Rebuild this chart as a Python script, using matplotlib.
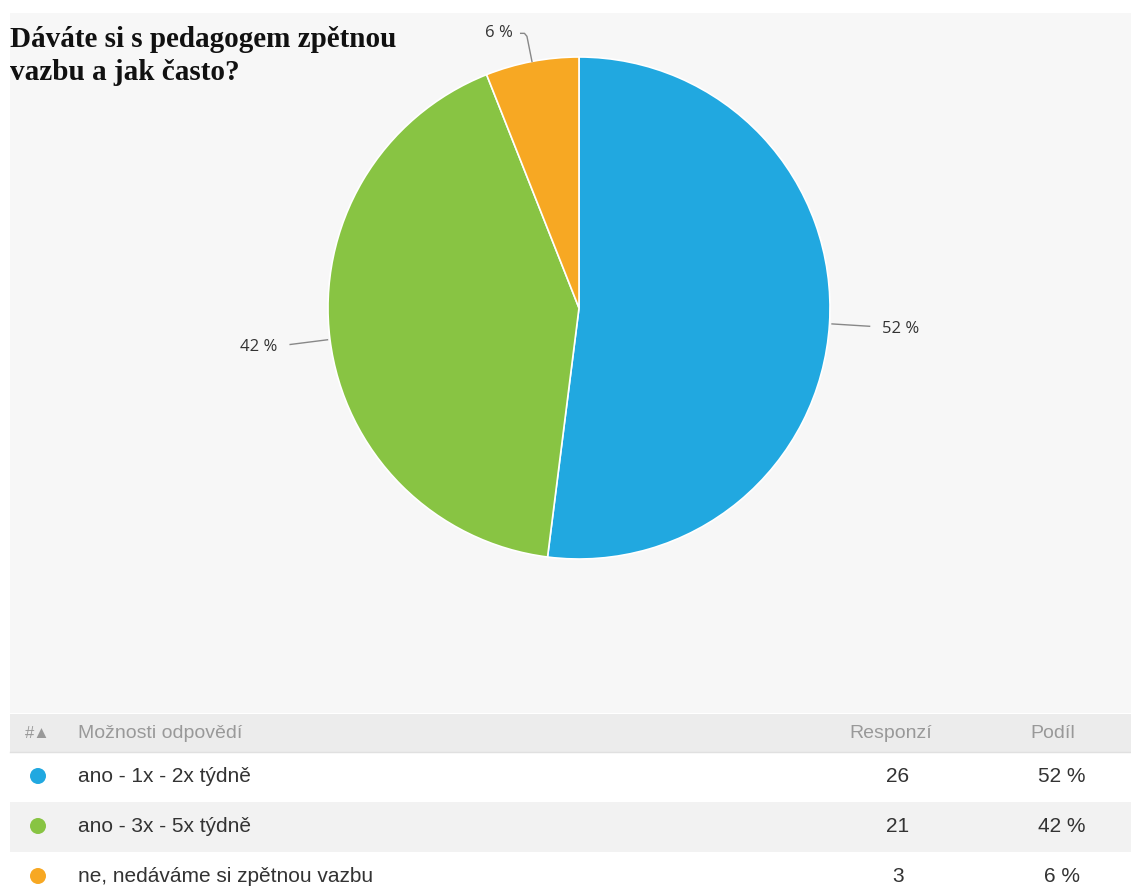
import matplotlib
matplotlib.use("Agg")
import matplotlib.pyplot as plt
from matplotlib.patches import Rectangle, Circle
import numpy as np

# Survey data
title_lines = ["Dáváte si s pedagogem zpětnou", "vazbu a jak často?"]
options = ["ano - 1x - 2x týdně", "ano - 3x - 5x týdně", "ne, nedáváme si zpětnou vazbu"]
responses = [26, 21, 3]
shares = [52, 42, 6]
colors = ["#21a8e0", "#88c443", "#f7a823"]
header = ["#▲", "Možnosti odpovědí", "Responzí", "Podíl"]

W, H = 1131, 889
fig = plt.figure(figsize=(W / 100, H / 100), dpi=100)
fig.patch.set_facecolor("white")

# Background axes in pixel coordinates (y grows downward)
bg = fig.add_axes([0, 0, 1, 1])
bg.set_xlim(0, W)
bg.set_ylim(H, 0)
bg.axis("off")

bg.add_patch(Rectangle((10, 13), W - 10, 700, facecolor="#f7f7f7", edgecolor="none"))
bg.add_patch(Rectangle((10, 714), W - 10, 38, facecolor="#ececec", edgecolor="none"))
bg.plot([10, W], [752, 752], color="#e0e0e0", lw=1)
row_tops = [752, 802, 852]
row_fill = ["white", "#f2f2f2", "white"]
for top, fc in zip(row_tops, row_fill):
    bg.add_patch(Rectangle((10, top), W - 10, 50, facecolor=fc, edgecolor="none"))

# Title, two lines
for k, line in enumerate(title_lines):
    bg.text(10, 47 + 33 * k, line, fontsize=21, fontweight="bold",
            family="Liberation Serif", color="#111111", va="baseline", ha="left")

# Table header
hy = 733
hdr_font = dict(color="#999999", va="center", family=["Liberation Sans", "DejaVu Sans"])
bg.text(25, hy, header[0], fontsize=12, ha="left", **hdr_font)
bg.text(78, hy, header[1], fontsize=14, ha="left", **hdr_font)
bg.text(891, hy, header[2], fontsize=14, ha="center", **hdr_font)
bg.text(1053, hy, header[3], fontsize=14, ha="center", **hdr_font)

# Table rows
row_font = dict(fontsize=15, color="#333333", va="center", family="Liberation Sans")
for i, (opt, n, s, c) in enumerate(zip(options, responses, shares, colors)):
    cy = row_tops[i] + 24
    bg.add_patch(Circle((38, cy), 8, facecolor=c, edgecolor="none"))
    bg.text(78, cy, opt, ha="left", **row_font)
    bg.text(898, cy, str(n), ha="center", **row_font)
    bg.text(1062, cy, f"{s} %", ha="center", **row_font)

# Pie chart
cx, cyp, r = 579, 308, 251
pie_ax = fig.add_axes([(cx - r) / W, (H - cyp - r) / H, 2 * r / W, 2 * r / H])
wedges, _ = pie_ax.pie(responses, colors=colors, startangle=90, counterclock=False,
                       radius=1, wedgeprops=dict(edgecolor="white", linewidth=1.2))
pie_ax.set_xlim(-1, 1)
pie_ax.set_ylim(-1, 1)
pie_ax.axis("off")

line_c = "#888888"
lab_font = dict(fontsize=12, color="#333333", family="Open Sans")
for w, s in zip(wedges, shares):
    mid = np.deg2rad((w.theta1 + w.theta2) / 2)
    ux, uy = np.cos(mid), np.sin(mid)
    if uy > 0.9:
        # small top slice: curved leader up to the label
        x0, y0 = 1.0 * ux, 1.0 * uy
        xs = [x0, x0 - 0.012, x0 - 0.02, x0 - 0.03, x0 - 0.045]
        ys = [y0, y0 + 0.06, y0 + 0.1, y0 + 0.112, y0 + 0.112]
        pie_ax.plot(xs, ys, color=line_c, lw=1, clip_on=False)
        pie_ax.text(x0 - 0.075, y0 + 0.112, f"{s} %", ha="right", va="center",
                    clip_on=False, **lab_font)
    else:
        pie_ax.plot([1.01 * ux, 1.16 * ux], [1.01 * uy, 1.16 * uy], color=line_c,
                    lw=1, clip_on=False)
        ha = "left" if ux > 0 else "right"
        pie_ax.text(1.21 * ux, 1.16 * uy - 0.01, f"{s} %", ha=ha, va="center",
                    clip_on=False, **lab_font)

fig.savefig("out.png", dpi=100, facecolor=fig.get_facecolor())
